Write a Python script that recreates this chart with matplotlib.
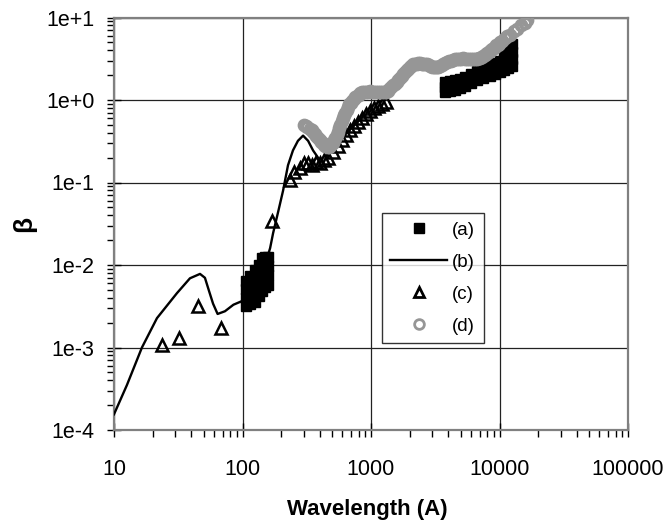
import matplotlib
matplotlib.use('Agg')
import matplotlib.pyplot as plt
from matplotlib.ticker import LogLocator, FixedLocator, FixedFormatter, NullFormatter
from matplotlib.lines import Line2D

plt.rcParams['font.family'] = ['Liberation Sans', 'DejaVu Sans']

# ---------------- data ----------------
# (b) model curve
b_x = [10, 12.6, 16.5, 21.6, 30.9, 39, 46.7, 51, 55, 59, 64, 73, 85, 101, 120, 140,
       155, 164, 173, 190, 207, 226, 247, 270, 296, 324, 354, 387]
b_y = [1.55e-4, 3.5e-4, 1.0e-3, 2.27e-3, 4.56e-3, 6.9e-3, 7.8e-3, 7.0e-3, 4.8e-3,
       3.4e-3, 2.55e-3, 2.75e-3, 3.3e-3, 3.7e-3, 5.0e-3, 8.0e-3,
       1.2e-2, 1.6e-2, 2.43e-2, 4.5e-2, 8.0e-2, 0.162, 0.245, 0.32, 0.37, 0.32, 0.245, 0.20]

# (a) EUV cluster
a1_x = [106, 106, 106, 106, 115, 115, 115, 115, 125, 125, 125, 125,
        134, 134, 134, 134, 142, 142, 142, 142, 150, 150, 150, 150,
        158, 158, 158, 158]
a1_y = [3.2e-3, 4.0e-3, 5.1e-3, 6.4e-3, 3.4e-3, 4.4e-3, 5.7e-3, 7.4e-3,
        3.6e-3, 4.8e-3, 6.4e-3, 8.6e-3, 4.2e-3, 5.6e-3, 7.5e-3, 1.0e-2,
        4.9e-3, 6.6e-3, 9.0e-3, 1.2e-2, 5.4e-3, 7.2e-3, 9.5e-3, 1.24e-2,
        5.7e-3, 7.5e-3, 9.7e-3, 1.24e-2]
# (a) optical cluster
a2_x = [3770, 3770, 3770, 4100, 4100, 4100, 4510, 4510, 4510, 4950, 4950, 4950,
        5400, 5400, 5400, 6000, 6000, 6000, 6690, 6690, 6690, 7500, 7500, 7500,
        8440, 8440, 8440, 9200, 9200, 9200, 10090, 10090, 10090,
        10900, 10900, 10900, 11650, 11650, 11650, 11650, 12500, 12500, 12500, 12500]
a2_y = [1.24, 1.42, 1.63, 1.27, 1.47, 1.68, 1.31, 1.50, 1.73, 1.38, 1.58, 1.80,
        1.46, 1.66, 1.88, 1.60, 1.80, 2.05, 1.77, 1.98, 2.22, 1.85, 2.15, 2.42,
        1.93, 2.25, 2.62, 2.05, 2.40, 2.80, 2.16, 2.55, 3.01,
        2.30, 2.80, 3.40, 2.42, 2.90, 3.40, 3.98, 2.55, 3.10, 3.80, 4.71]

# (c) measured points
c_x = [23.7, 32, 45, 68, 170, 234, 252, 280, 301, 323, 347, 373, 401, 431, 463,
       506, 554, 595, 639, 686, 737, 792, 851, 914, 982, 1055, 1134, 1218, 1308]
c_y = [1.07e-3, 1.3e-3, 3.2e-3, 1.72e-3, 0.034, 0.106, 0.133, 0.149, 0.171, 0.171,
       0.161, 0.176, 0.171, 0.186, 0.196, 0.232, 0.274, 0.324, 0.373, 0.428,
       0.479, 0.535, 0.599, 0.669, 0.728, 0.791, 0.837, 0.885, 0.936]

# (d) measured points
d_x = [300, 310, 320, 333, 347, 356, 365, 376, 387, 398, 410, 420, 431, 440, 450,
       460, 471, 481, 492, 503, 515, 527, 540, 552, 564, 577, 590, 603, 617, 631,
       645, 660, 675, 693, 712, 731, 751, 775, 800, 825, 851, 882, 915, 948, 982,
       1018, 1055, 1094, 1134, 1176, 1220, 1263, 1308, 1348, 1390, 1435, 1483, 1530,
       1580, 1630, 1681, 1735, 1790, 1848, 1906, 1958, 2010, 2065, 2122, 2190, 2260,
       2330, 2406, 2480, 2560, 2640, 2728, 2810, 2900, 2995, 3093, 3175, 3260, 3350,
       3444, 3550, 3660, 3780, 3904, 4050, 4200, 4350, 4506, 4680, 4850, 5020, 5200,
       5400, 5600, 5800, 6001, 6220, 6450, 6690, 6927, 7110, 7300, 7500, 7714, 7880,
       8050, 8240, 8436, 8620, 8820, 9020, 9226, 9430, 9650, 9870, 10090, 10550,
       11035, 11540, 12068, 12900, 13800, 14800, 15786, 16500]
d_y = [0.50, 0.49, 0.47, 0.45, 0.43, 0.41, 0.39, 0.365, 0.343, 0.325, 0.31, 0.297,
       0.285, 0.279, 0.275, 0.272, 0.272, 0.279, 0.29, 0.305, 0.324, 0.35, 0.38,
       0.415, 0.453, 0.50, 0.55, 0.60, 0.651, 0.705, 0.76, 0.82, 0.885, 0.93, 0.98,
       1.03, 1.075, 1.12, 1.16, 1.20, 1.236, 1.25, 1.26, 1.265, 1.27, 1.26, 1.25,
       1.24, 1.236, 1.236, 1.236, 1.236, 1.236, 1.30, 1.37, 1.43, 1.50, 1.58, 1.66,
       1.74, 1.83, 1.94, 2.05, 2.16, 2.28, 2.39, 2.50, 2.60, 2.70, 2.73, 2.76, 2.77,
       2.77, 2.76, 2.74, 2.72, 2.70, 2.64, 2.58, 2.53, 2.48, 2.50, 2.52, 2.54, 2.55,
       2.62, 2.70, 2.78, 2.85, 2.93, 3.0, 3.05, 3.10, 3.13, 3.16, 3.18, 3.19, 3.17,
       3.14, 3.12, 3.10, 3.12, 3.15, 3.17, 3.19, 3.26, 3.33, 3.40, 3.47, 3.60, 3.72,
       3.85, 3.98, 4.09, 4.2, 4.32, 4.45, 4.58, 4.7, 4.84, 4.98, 5.25, 5.57, 5.9,
       6.22, 6.8, 7.35, 8.0, 8.69, 9.2]

labels = ['(a)', '(b)', '(c)', '(d)']
x_ticks = [10, 100, 1000, 10000, 100000]
x_ticklabels = ['10', '100', '1000', '10000', '100000']
y_ticks = [1e-4, 1e-3, 1e-2, 1e-1, 1e0, 1e1]
y_ticklabels = ['1e-4', '1e-3', '1e-2', '1e-1', '1e+0', '1e+1']

# ---------------- figure ----------------
W, H = 666, 523
fig = plt.figure(figsize=(W / 100, H / 100), dpi=100)
ax = fig.add_axes([114 / W, 1 - 430 / H, 514 / W, 412.5 / H])
ax.set_xscale('log')
ax.set_yscale('log')
ax.set_xlim(10, 100000)
ax.set_ylim(1e-4, 1e1)

grey = '#969696'
ax.plot(a1_x + a2_x, a1_y + a2_y, linestyle='none', marker='s', markersize=6.5,
        color='black', zorder=3)
ax.plot(b_x, b_y, color='black', lw=1.7, zorder=3)
ax.plot(c_x, c_y, linestyle='none', marker='^', markersize=9, mfc='none',
        mec='black', mew=1.8, zorder=4)
ax.plot(d_x, d_y, linestyle='none', marker='o', markersize=7.5, mfc='none',
        mec=grey, mew=2.4, zorder=5)

ax.grid(True, which='major', color='#222222', lw=0.9)
ax.set_axisbelow(True)
for s in ax.spines.values():
    s.set_color('#808080')
    s.set_linewidth(1.6)

ax.xaxis.set_major_locator(FixedLocator(x_ticks))
ax.xaxis.set_major_formatter(FixedFormatter(x_ticklabels))
ax.yaxis.set_major_locator(FixedLocator(y_ticks))
ax.yaxis.set_major_formatter(FixedFormatter(y_ticklabels))
ax.xaxis.set_minor_locator(LogLocator(base=10, subs=range(2, 10), numticks=20))
ax.yaxis.set_minor_locator(LogLocator(base=10, subs=range(2, 10), numticks=20))
ax.xaxis.set_minor_formatter(NullFormatter())
ax.yaxis.set_minor_formatter(NullFormatter())

ax.tick_params(which='major', direction='inout', length=10, width=1, color='black',
               labelsize=15.5)
ax.tick_params(which='minor', direction='out', length=5, width=1, color='black')
ax.tick_params(axis='x', which='major', pad=16)
ax.tick_params(axis='y', which='major', pad=9)

fig.text(367 / W, 1 - 510 / H, 'Wavelength (A)', ha='center', va='center',
         fontsize=16, fontweight='bold')
fig.text(24 / W, 1 - 224 / H, 'β', ha='center', va='center', rotation=90,
         fontsize=19, fontweight='bold')

handles = [
    Line2D([], [], linestyle='none', marker='s', markersize=7, color='black'),
    Line2D([], [], color='black', lw=1.7),
    Line2D([], [], linestyle='none', marker='^', markersize=7, mfc='none', mec='black', mew=2),
    Line2D([], [], linestyle='none', marker='o', markersize=7, mfc='none', mec=grey, mew=2),
]
leg = ax.legend(handles, labels, loc='upper left', bbox_to_anchor=(382 / W, 1 - 213 / H),
                bbox_transform=fig.transFigure, frameon=True, fancybox=False,
                edgecolor='black', fontsize=13.5, handlelength=3.0, handletextpad=0.3,
                labelspacing=0.8, borderpad=0.45, borderaxespad=0)
leg.get_frame().set_linewidth(1)
leg.set_zorder(10)

fig.savefig('out.png', dpi=100)
